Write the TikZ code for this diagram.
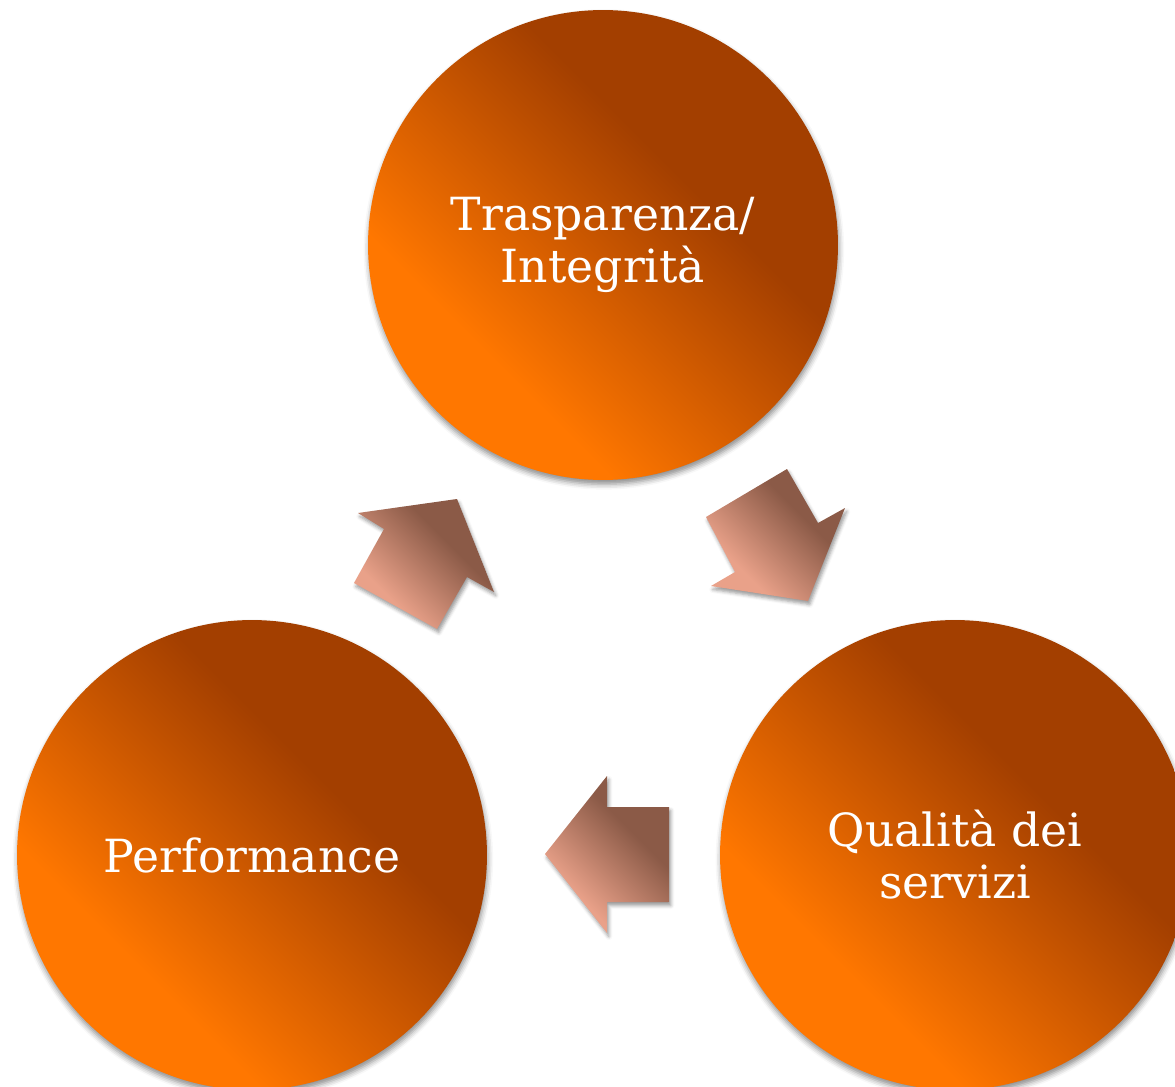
\documentclass[tikz,border=0pt]{standalone}
\usepackage{fontspec}
\setmainfont{DejaVu Serif}
\usepackage{xcolor}
\usepackage{tikz}
\usetikzlibrary{shadows.blur}

\definecolor{orbLight}{HTML}{FF7700}
\definecolor{orbDark}{HTML}{A33F00}
\definecolor{arrLight}{HTML}{E9A189}
\definecolor{arrDark}{HTML}{8B5A47}

% bright corner bottom left, dark corner top right
\pgfdeclarehorizontalshading{orbshade}{100bp}{color(0bp)=(orbLight); color(33bp)=(orbLight); color(61bp)=(orbDark); color(100bp)=(orbDark)}
\pgfdeclarehorizontalshading{arrshade}{100bp}{color(0bp)=(arrLight); color(32bp)=(arrLight); color(62bp)=(arrDark); color(100bp)=(arrDark)}

\begin{document}
\begin{tikzpicture}[x=0.02cm,
			y=-0.02cm,
			orb/.style={circle, minimum size=9.4cm, inner sep=0pt,
				shade, shading=orbshade, shading angle=45,
				blur shadow={shadow xshift=0.5pt, shadow yshift=-2.5pt, shadow blur radius=3pt, shadow opacity=45},
				text=white, align=center, font=\fontsize{26}{29.6}\selectfont},
			blockarrow/.style={shade, shading=arrshade, shading angle=45,
				blur shadow={shadow xshift=1pt, shadow yshift=-2pt, shadow blur radius=2pt, shadow opacity=40}}]

			\useasboundingbox (0,0) rectangle (1175,1087);
			\clip (0,0) rectangle (1175,1087);

			\node[orb] (trasp) at (603,245) {Trasparenza/\\Integrità};
			\node[orb] (perf) at (252,855) {Performance};
			\node[orb] (qual) at (955,855) {Qualità dei\\servizi};

			% trasp -> qual
			\shade[blockarrow] (706,517) -- (787,469) -- (818,523) -- (845,508) -- (808,601) -- (711,586) -- (735,572) -- cycle;
			% qual -> perf
			\shade[blockarrow] (545,854) -- (607,776) -- (607,807) -- (669,807) -- (669,902) -- (607,902) -- (607,933) -- cycle;
			% perf -> trasp
			\shade[blockarrow] (358,513) -- (457,499) -- (494,592) -- (467,577) -- (437,629) -- (354,583) -- (384,529) -- cycle;
		\end{tikzpicture}
\end{document}
